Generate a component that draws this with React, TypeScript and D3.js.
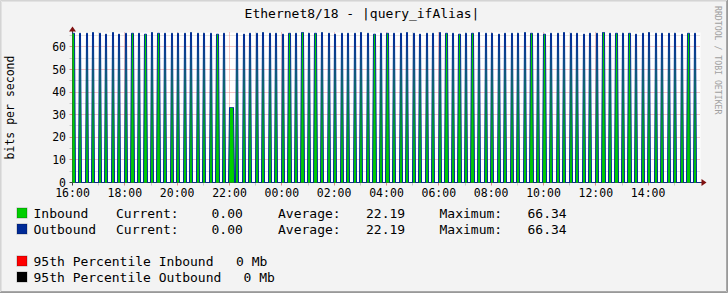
import React from "react";
import * as d3 from "d3";

// ---- data (5-minute samples, 16:00 -> 16:00 next day, bits per second) ----
const inboundBps: number[] = [
  66.0,0,0,66.0,0,0,66.0,0,0,66.34,0,0,
  66.0,0,0,65.6,0,0,66.34,0,0,65.6,0,0,
  66.0,0,0,66.0,0,0,66.0,0,0,65.6,0,0,
  66.34,0,0,66.0,0,0,66.0,0,0,66.0,0,0,
  66.0,0,0,66.0,0,0,66.34,0,0,66.0,0,0,
  66.0,0,0,66.0,0,0,65.6,0,0,66.0,0,0,
  33.17,33.17,0,66.0,0,0,65.6,0,0,66.0,0,0,
  66.0,0,0,66.34,0,0,66.0,0,0,66.0,0,0,
  65.6,0,0,66.0,0,0,66.0,0,0,66.34,0,0,
  66.0,0,0,66.0,0,0,66.34,0,0,66.0,0,0,
  65.6,0,0,66.0,0,0,66.0,0,0,66.0,0,0,
  66.34,0,0,66.0,0,0,65.6,0,0,66.0,0,0,
  66.0,0,0,66.0,0,0,66.0,0,0,66.34,0,0,
  66.0,0,0,65.6,0,0,66.0,0,0,66.0,0,0,
  66.34,0,0,66.0,0,0,66.0,0,0,65.6,0,0,
  66.0,0,0,66.0,0,0,66.34,0,0,66.0,0,0,
  66.0,0,0,65.6,0,0,66.0,0,0,66.0,0,0,
  66.0,0,0,66.34,0,0,66.0,0,0,66.0,0,0,
  65.6,0,0,66.0,0,0,66.0,0,0,66.34,0,0,
  66.0,0,0,66.0,0,0,65.6,0,0,66.0,0,0,
  66.0,0,0,66.34,0,0,66.0,0,0,66.0,0,0,
  66.0,0,0,66.0,0,0,65.6,0,0,66.0,0,0,
  66.34,0,0,66.0,0,0,66.0,0,0,66.0,0,0,
  66.0,0,0,65.6,0,0,66.0,0,0,66.0,0,0,
];
const outboundBps: number[] = [
  66.0,0,0,66.0,0,0,66.0,0,0,66.34,0,0,
  66.0,0,0,65.6,0,0,66.34,0,0,65.6,0,0,
  66.0,0,0,66.0,0,0,66.0,0,0,65.6,0,0,
  66.34,0,0,66.0,0,0,66.0,0,0,66.0,0,0,
  66.0,0,0,66.0,0,0,66.34,0,0,66.0,0,0,
  66.0,0,0,66.0,0,0,65.6,0,0,66.0,0,0,
  33.17,33.17,0,66.0,0,0,65.6,0,0,66.0,0,0,
  66.0,0,0,66.34,0,0,66.0,0,0,66.0,0,0,
  65.6,0,0,66.0,0,0,66.0,0,0,66.34,0,0,
  66.0,0,0,66.0,0,0,66.34,0,0,66.0,0,0,
  65.6,0,0,66.0,0,0,66.0,0,0,66.0,0,0,
  66.34,0,0,66.0,0,0,65.6,0,0,66.0,0,0,
  66.0,0,0,66.0,0,0,66.0,0,0,66.34,0,0,
  66.0,0,0,65.6,0,0,66.0,0,0,66.0,0,0,
  66.34,0,0,66.0,0,0,66.0,0,0,65.6,0,0,
  66.0,0,0,66.0,0,0,66.34,0,0,66.0,0,0,
  66.0,0,0,65.6,0,0,66.0,0,0,66.0,0,0,
  66.0,0,0,66.34,0,0,66.0,0,0,66.0,0,0,
  65.6,0,0,66.0,0,0,66.0,0,0,66.34,0,0,
  66.0,0,0,66.0,0,0,65.6,0,0,66.0,0,0,
  66.0,0,0,66.34,0,0,66.0,0,0,66.0,0,0,
  66.0,0,0,66.0,0,0,65.6,0,0,66.0,0,0,
  66.34,0,0,66.0,0,0,66.0,0,0,66.0,0,0,
  66.0,0,0,65.6,0,0,66.0,0,0,66.0,0,0,
];
const xTickLabels: string[] = ["16:00","18:00","20:00","22:00","00:00","02:00","04:00","06:00","08:00","10:00","12:00","14:00"];
const yTickValues: number[] = [0, 10, 20, 30, 40, 50, 60];
const yMax = 66.34;
const titleText = "Ethernet8/18 - |query_ifAlias|";
const yAxisTitle = "bits per second";
const watermark = "RRDTOOL / TOBI OETIKER";
const legendNames: string[] = ["Inbound", "Outbound"];
const legendCurrent: string[] = ["0.00", "0.00"];
const legendAverage: string[] = ["22.19", "22.19"];
const legendMaximum: string[] = ["66.34", "66.34"];
const percentileLabels: string[] = ["95th Percentile Inbound", "95th Percentile Outbound"];
const percentileValues: string[] = ["0 Mb", "0 Mb"];

// ---- layout / style ----
const W = 728, H = 293;
const X0 = 72.5, X1 = 700.5, Y0 = 182.5, Y1 = 32.5;
const COLS = 628; // one value per pixel column, like rrdtool
const PHASE = 0.05;
const FONT = "'DejaVu Sans Mono', monospace";
const C_IN = "#00CF00", C_OUT = "#002A97";
const C_MAJOR = "#E08A8A", C_MINOR = "#C8C8C8", C_AXIS = "#404040", C_ARROW = "#7F1010";

const start = new Date(2024, 0, 1, 16, 0, 0);
const end = new Date(2024, 0, 2, 16, 0, 0);
const STEP = 5 * 60 * 1000;

type Pt = { t: Date; v: number };

export default function App() {
  const x = d3.scaleTime().domain([start, end]).range([X0, X1]);
  const y = d3.scaleLinear().domain([0, yMax]).range([Y0, Y1]);

  const colDur = (+end - +start) / COLS;
  // resample the 5-minute samples onto pixel columns (rrdtool style rendering)
  const toCols = (arr: number[]): Pt[] =>
    d3.range(COLS + 1).map((p) => {
      const tc = +start + p * colDur;
      const raw = Math.floor((tc - +start + PHASE * colDur) / STEP);
      const idx = Math.max(0, Math.min(arr.length - 1, raw));
      return { t: new Date(tc), v: arr[idx] };
    });
  const inPts = toCols(inboundBps);
  const outPts = toCols(outboundBps);

  const area = d3.area<Pt>().x((d) => x(d.t)).y0(y(0)).y1((d) => y(d.v));
  const line = d3.line<Pt>().x((d) => x(d.t)).y((d) => y(d.v));

  const hours = d3.range(1, 24).map((h) => new Date(+start + h * 3600 * 1000));
  const yGrid = d3.range(5, yMax, 5);
  const labelTimes = xTickLabels.map((_, i) => new Date(+start + i * 2 * 3600 * 1000));

  const legendY = [218, 234];
  const pctY = [266, 282];
  const pctValX = [236, 243.5];
  const colX = [33.5, 116, 211.5, 278, 366, 439.5, 527.5];

  return (
    <svg width={W} height={H} style={{ position: "fixed", left: 0, top: 0 }} fontFamily={FONT}>
      <rect x={0} y={0} width={W} height={H} fill="#F3F3F3" />
      {/* frame shading */}
      <path d={`M0.5,${H} V0.5 H${W}`} stroke="#D4D4D4" fill="none" />
      <path d={`M1.5,${H - 1} V1.5 H${W - 1}`} stroke="#E2E2E2" fill="none" />
      <path d={`M0,${H - 0.5} H${W - 0.5} V0`} stroke="#999999" fill="none" />
      <path d={`M1,${H - 1.5} H${W - 1.5} V1`} stroke="#A8A8A8" fill="none" />

      <text x={362} y={18.3} fontSize={13} textAnchor="middle" fill="#000">{titleText}</text>
      <text transform={`translate(13.5,${(Y0 + Y1) / 2}) rotate(-90)`} fontSize={11.5} textAnchor="middle" fill="#000">{yAxisTitle}</text>
      <text transform={`translate(715,6) rotate(90)`} fontSize={8.2} fill="#A0A0A0">{watermark}</text>

      {/* canvas */}
      <rect x={X0} y={Y1} width={X1 - X0} height={Y0 - Y1} fill="#FFFFFF" />

      {/* grid */}
      {yGrid.map((v) => {
        const major = Math.abs(v % 10) < 1e-9;
        const yy = Math.round(y(v) - 0.5) + 0.5;
        return (
          <g key={"yg" + v}>
            <line x1={X0} x2={X1} y1={yy} y2={yy} stroke={major ? C_MAJOR : C_MINOR} strokeDasharray="1,1" />
            <line x1={X0 - 3} x2={X0} y1={yy} y2={yy} stroke={major ? C_MAJOR : C_MINOR} />
          </g>
        );
      })}
      {hours.map((t, i) => {
        const major = (i + 1) % 2 === 0;
        const xx = Math.round(x(t) - 0.5) + 0.5;
        return (
          <g key={"xg" + i}>
            <line x1={xx} x2={xx} y1={Y1} y2={Y0} stroke={major ? C_MAJOR : C_MINOR} strokeDasharray="1,1" />
            <line x1={xx} x2={xx} y1={Y0} y2={Y0 + 3} stroke={major ? C_MAJOR : C_MINOR} />
          </g>
        );
      })}

      {/* axes */}
      <line x1={X0 - 3} x2={X1 + 3} y1={Y0} y2={Y0} stroke={C_AXIS} />
      <line x1={X0} x2={X0} y1={Y0 + 3} y2={Y1 - 3} stroke={C_AXIS} />
      <path d={`M${X1 + 1},${Y0 - 3.5} L${X1 + 6},${Y0} L${X1 + 1},${Y0 + 3.5} Z`} fill={C_ARROW} />
      <path d={`M${X0 - 3.5},${Y1 - 1} L${X0},${Y1 - 6} L${X0 + 3.5},${Y1 - 1} Z`} fill={C_ARROW} />

      {/* data */}
      <path d={area(inPts) || ""} fill={C_IN} />
      <path d={line(outPts) || ""} fill="none" stroke={C_OUT} strokeWidth={1} />

      {/* tick labels */}
      {yTickValues.map((v) => (
        <text key={"yl" + v} x={66} y={y(v) + 4.2} fontSize={11.5} textAnchor="end" fill="#000">{v}</text>
      ))}
      {labelTimes.map((t, i) => (
        <text key={"xl" + i} x={x(t)} y={197} fontSize={11.5} textAnchor="middle" fill="#000">{xTickLabels[i]}</text>
      ))}

      {/* legend */}
      {legendNames.map((n, i) => (
        <g key={"lg" + i} fontSize={13} fill="#000">
          <rect x={17} y={legendY[i] - 10} width={10} height={10} fill={i === 0 ? C_IN : C_OUT} stroke="#000" strokeOpacity={0.25} />
          <text x={colX[0]} y={legendY[i]}>{n}</text>
          <text x={colX[1]} y={legendY[i]}>Current:</text>
          <text x={colX[2]} y={legendY[i]}>{legendCurrent[i]}</text>
          <text x={colX[3]} y={legendY[i]}>Average:</text>
          <text x={colX[4]} y={legendY[i]}>{legendAverage[i]}</text>
          <text x={colX[5]} y={legendY[i]}>Maximum:</text>
          <text x={colX[6]} y={legendY[i]}>{legendMaximum[i]}</text>
        </g>
      ))}
      {percentileLabels.map((n, i) => (
        <g key={"pc" + i} fontSize={13} fill="#000">
          <rect x={17} y={pctY[i] - 10} width={10} height={10} fill={i === 0 ? "#FF0000" : "#000000"} stroke="#000" strokeOpacity={0.25} />
          <text x={colX[0]} y={pctY[i]}>{n}</text>
          <text x={pctValX[i]} y={pctY[i]}>{percentileValues[i]}</text>
        </g>
      ))}
    </svg>
  );
}
